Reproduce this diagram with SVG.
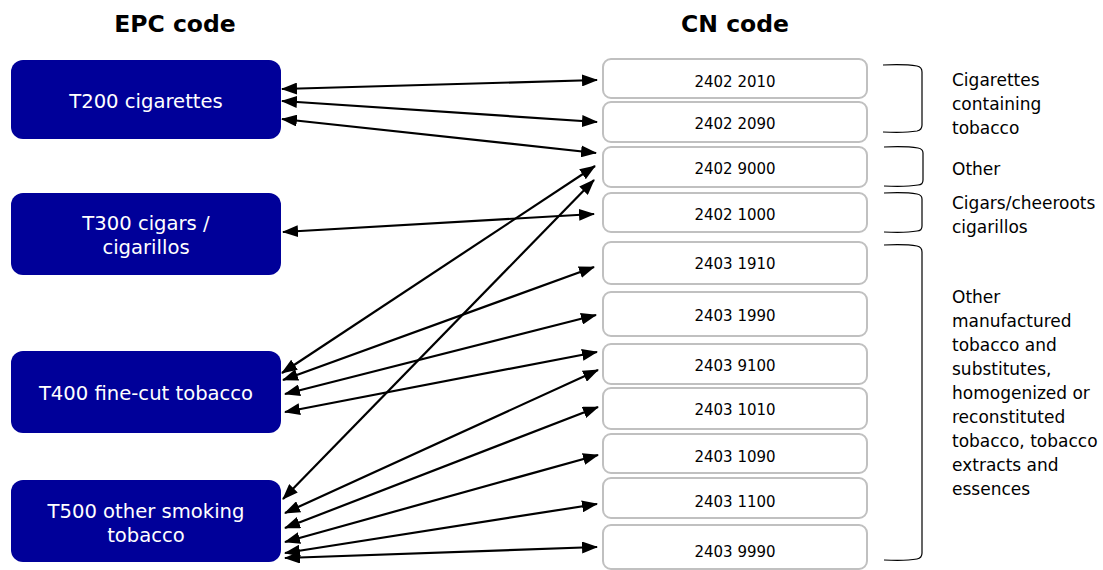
<svg xmlns="http://www.w3.org/2000/svg" width="1103" height="570" viewBox="0 0 1103 570">
<style>
.hdr{font-family:"DejaVu Sans",Verdana,sans-serif;font-weight:bold;font-size:23.5px;fill:#000;text-anchor:middle}
.epc rect{fill:#000099;stroke:none}
.epc text{font-family:"DejaVu Sans",Verdana,sans-serif;font-size:19.6px;fill:#fff;text-anchor:middle}
.cn rect{fill:#fff;stroke:#c0c0c0;stroke-width:2}
.cn text{font-family:"DejaVu Sans",Verdana,sans-serif;font-size:15px;fill:#000;text-anchor:middle}
.br{fill:none;stroke:#000;stroke-width:1.2}
.lbl{font-family:"DejaVu Sans",Verdana,sans-serif;font-size:17px;fill:#000}
.conn path{fill:none;stroke:#000;stroke-width:2.2;marker-start:url(#ah);marker-end:url(#ah)}
</style>
<defs>
<marker id="ah" viewBox="0 0 16 12" refX="15" refY="6" markerWidth="16" markerHeight="12" markerUnits="userSpaceOnUse" orient="auto-start-reverse">
<path d="M0,0 L16,6 L0,12 z" fill="#000"/>
</marker>
</defs>
<rect width="1103" height="570" fill="#fff"/>
<text class="hdr" x="175" y="32">EPC code</text>
<text class="hdr" x="735" y="32">CN code</text>

<g id="T200" class="epc"><rect x="11" y="60" width="270" height="79" rx="12"/><text x="146" y="108">T200 cigarettes</text></g>
<g id="T300" class="epc"><rect x="11" y="193" width="270" height="82" rx="12"/><text x="146" y="230">T300 cigars /</text><text x="146" y="254">cigarillos</text></g>
<g id="T400" class="epc"><rect x="11" y="351" width="270" height="82" rx="12"/><text x="146" y="400">T400 fine-cut tobacco</text></g>
<g id="T500" class="epc"><rect x="11" y="480" width="270" height="82" rx="12"/><text x="146" y="518">T500 other smoking</text><text x="146" y="542">tobacco</text></g>

<g id="cn24022010" class="cn"><rect x="603" y="59" width="264" height="39" rx="8"/><text x="735" y="87">2402 2010</text></g>
<g id="cn24022090" class="cn"><rect x="603" y="102" width="264" height="40" rx="8"/><text x="735" y="129">2402 2090</text></g>
<g id="cn24029000" class="cn"><rect x="603" y="147" width="264" height="40" rx="8"/><text x="735" y="174">2402 9000</text></g>
<g id="cn24021000" class="cn"><rect x="603" y="193" width="264" height="39" rx="8"/><text x="735" y="220">2402 1000</text></g>
<g id="cn24031910" class="cn"><rect x="603" y="242" width="264" height="42" rx="8"/><text x="735" y="269">2403 1910</text></g>
<g id="cn24031990" class="cn"><rect x="603" y="292" width="264" height="44" rx="8"/><text x="735" y="321">2403 1990</text></g>
<g id="cn24039100" class="cn"><rect x="603" y="344" width="264" height="40" rx="8"/><text x="735" y="371">2403 9100</text></g>
<g id="cn24031010" class="cn"><rect x="603" y="388" width="264" height="41" rx="8"/><text x="735" y="415">2403 1010</text></g>
<g id="cn24031090" class="cn"><rect x="603" y="434" width="264" height="39" rx="8"/><text x="735" y="462">2403 1090</text></g>
<g id="cn24031100" class="cn"><rect x="603" y="478" width="264" height="40" rx="8"/><text x="735" y="507">2403 1100</text></g>
<g id="cn24039990" class="cn"><rect x="603" y="525" width="264" height="44" rx="8"/><text x="735" y="557">2403 9990</text></g>

<g id="brackets">
<path class="br" d="M883,65 Q905,64 917,66 Q922,67 922,72 L922,125 Q922,130 917,131 Q905,133 883,132"/>
<path class="br" d="M884,147 Q906,146 918,148 Q923,149 923,153 L923,180 Q923,185 918,185 Q906,187 884,186"/>
<path class="br" d="M884,193 Q906,192 917,194 Q922,195 922,199 L922,226 Q922,231 917,231 Q906,233 884,232"/>
<path class="br" d="M884,245 Q906,244 917,246 Q922,247 922,252 L922,553 Q922,558 917,559 Q906,561 884,560"/>
</g>

<g id="labels" class="lbl">
<text x="952" y="86">Cigarettes</text>
<text x="952" y="110">containing</text>
<text x="952" y="134">tobacco</text>
<text x="952" y="175">Other</text>
<text x="952" y="209">Cigars/cheeroots</text>
<text x="952" y="233">cigarillos</text>
<text x="952" y="303">Other</text>
<text x="952" y="327">manufactured</text>
<text x="952" y="351">tobacco and</text>
<text x="952" y="375">substitutes,</text>
<text x="952" y="399">homogenized or</text>
<text x="952" y="423">reconstituted</text>
<text x="952" y="447">tobacco, tobacco</text>
<text x="952" y="471">extracts and</text>
<text x="952" y="495">essences</text>
</g>

<g id="connectors" class="conn">
<path d="M282,89 L597,80"/>
<path d="M282,101 L597,122"/>
<path d="M282,119 L596,153"/>
<path d="M283,232 L594,214"/>
<path d="M282,373 L595,166"/>
<path d="M283,380 L594,267"/>
<path d="M285,394 L596,315"/>
<path d="M285,412 L597,352"/>
<path d="M283,499 L594,180"/>
<path d="M285,513 L598,370"/>
<path d="M285,528 L598,407"/>
<path d="M285,542 L598,455"/>
<path d="M285,553 L597,504"/>
<path d="M285,558 L597,547"/>
</g>
</svg>
